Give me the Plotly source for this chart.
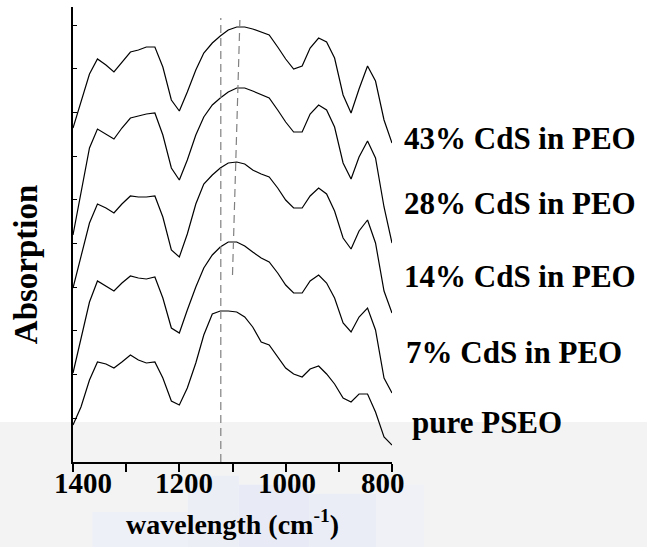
import plotly.graph_objects as go

# wavenumber grid (cm^-1)
wavenumber = [1400, 1385, 1369, 1354, 1338, 1323, 1308, 1292, 1277, 1262,
              1246, 1231, 1215, 1200, 1185, 1169, 1154, 1138, 1123, 1108,
              1092, 1077, 1062, 1046, 1031, 1015, 1000, 985, 969, 954,
              938, 923, 908, 892, 877, 862, 846, 831, 815, 800]

# absorption (arbitrary units, stacked)
cds43 = [3.34, 3.61, 3.88, 4.03, 3.97, 3.90, 4.00, 4.10, 4.12, 4.15,
         4.15, 3.95, 3.62, 3.51, 3.70, 3.92, 4.09, 4.19, 4.26, 4.32,
         4.35, 4.35, 4.33, 4.30, 4.27, 4.15, 4.03, 3.93, 3.96, 4.14,
         4.24, 4.20, 4.04, 3.67, 3.49, 3.73, 3.96, 3.81, 3.42, 3.19]
cds28 = [2.27, 2.71, 3.14, 3.33, 3.28, 3.23, 3.34, 3.44, 3.46, 3.48,
         3.49, 3.27, 2.94, 2.82, 3.02, 3.27, 3.45, 3.57, 3.64, 3.70,
         3.74, 3.74, 3.71, 3.67, 3.64, 3.52, 3.40, 3.30, 3.30, 3.48,
         3.57, 3.52, 3.35, 2.99, 2.83, 3.05, 3.21, 3.04, 2.55, 2.19]
cds14 = [1.74, 2.07, 2.39, 2.58, 2.54, 2.49, 2.58, 2.66, 2.65, 2.65,
         2.66, 2.45, 2.12, 2.05, 2.28, 2.58, 2.78, 2.87, 2.94, 2.99,
         3.00, 2.98, 2.92, 2.88, 2.85, 2.74, 2.62, 2.54, 2.54, 2.66,
         2.74, 2.68, 2.51, 2.24, 2.13, 2.31, 2.42, 2.19, 1.71, 1.49]
cds7 = [0.89, 1.25, 1.60, 1.81, 1.76, 1.71, 1.79, 1.86, 1.84, 1.83,
        1.85, 1.64, 1.34, 1.29, 1.52, 1.75, 1.94, 2.07, 2.15, 2.20,
        2.20, 2.16, 2.10, 2.04, 2.00, 1.89, 1.77, 1.69, 1.69, 1.81,
        1.87, 1.79, 1.64, 1.39, 1.30, 1.45, 1.54, 1.32, 0.84, 0.69]
pure = [0.37, 0.55, 0.82, 1.00, 0.98, 0.94, 1.00, 1.07, 1.02, 0.99,
        1.00, 0.84, 0.61, 0.57, 0.74, 0.99, 1.27, 1.48, 1.51, 1.51,
        1.50, 1.45, 1.35, 1.20, 1.17, 1.05, 0.94, 0.88, 0.85, 0.93,
        0.96, 0.88, 0.78, 0.64, 0.60, 0.68, 0.68, 0.50, 0.25, 0.17]

series_names = ["43% CdS in PEO", "28% CdS in PEO", "14% CdS in PEO",
                "7% CdS in PEO", "pure PSEO"]
series_values = [cds43, cds28, cds14, cds7, pure]
label_y = [0.712, 0.569, 0.407, 0.240, 0.086]
label_x = [1.031, 1.031, 1.031, 1.037, 1.057]

# dashed guide lines (wavenumber, absorption)
guide1_x = [1122, 1122]
guide1_y = [0.0, 4.44]
guide2_x = [1100, 1086]
guide2_y = [1.87, 4.44]

x_tickvals = [1400, 1300, 1200, 1100, 1000, 900, 800]
x_labeltext = ["1400", "1200", "1000", "800"]
# where the original figure printed each tick label (slightly compressed)
x_labelpos = [1381, 1192, 997, 816]

FONT = "Liberation Serif, Times New Roman, serif"

fig = go.Figure()

# watermark-like background band
fig.add_shape(type="rect", xref="paper", yref="paper", x0=-0.3, x1=1.9,
              y0=-0.25, y1=0.088, fillcolor="#f3f3f3", line_width=0, layer="below")
for (a, b, c, d, col) in [(0.36, 0.52, -0.03, -0.19, "#eceef6"),
                          (0.52, 0.74, -0.05, -0.19, "#e8ebf5"),
                          (0.74, 0.95, -0.07, -0.19, "#ebedf6"),
                          (0.06, 0.36, -0.11, -0.19, "#eef0f7"),
                          (0.95, 1.10, -0.05, -0.19, "#f0f1f7")]:
    fig.add_shape(type="rect", xref="paper", yref="paper", x0=a, x1=b,
                  y0=c, y1=d, fillcolor=col, line_width=0, layer="below")

for name, vals in zip(series_names, series_values):
    fig.add_trace(go.Scatter(x=wavenumber, y=vals, mode="lines", name=name,
                             line=dict(color="black", width=1.2),
                             showlegend=False, hoverinfo="skip"))

for gx, gy in [(guide1_x, guide1_y), (guide2_x, guide2_y)]:
    fig.add_trace(go.Scatter(x=gx, y=gy, mode="lines", showlegend=False,
                             line=dict(color="#808080", width=1.2, dash="8px,5px"),
                             hoverinfo="skip"))

for name, lx, ly in zip(series_names, label_x, label_y):
    fig.add_annotation(text="<b>" + name + "</b>", xref="paper", yref="paper",
                       x=lx, y=ly, xanchor="left", yanchor="middle", showarrow=False,
                       font=dict(family=FONT, size=31, color="black"))

for xv, xt in zip(x_labelpos, x_labeltext):
    fig.add_annotation(text="<b>" + xt + "</b>", xref="x", yref="paper",
                       x=xv, y=-0.047, xanchor="center", yanchor="middle",
                       showarrow=False, font=dict(family=FONT, size=29, color="black"))

fig.add_annotation(text="<b>Absorption</b>", xref="paper", yref="paper",
                   x=-0.147, y=0.435, textangle=-90, showarrow=False,
                   xanchor="center", yanchor="middle",
                   font=dict(family=FONT, size=33, color="black"))
fig.add_annotation(text="<b>wavelength (cm<sup>-1</sup>)</b>", xref="paper", yref="paper",
                   x=0.5, y=-0.132, showarrow=False, xanchor="center", yanchor="middle",
                   font=dict(family=FONT, size=28, color="black"))

fig.update_layout(
    width=647, height=547,
    margin=dict(l=73, r=255, t=7, b=85),
    paper_bgcolor="white", plot_bgcolor="rgba(0,0,0,0)",
    xaxis=dict(range=[1400, 800], tickvals=x_tickvals, showticklabels=False,
               showgrid=False, zeroline=False, showline=True, linecolor="black",
               linewidth=2, ticks="outside", ticklen=8, tickwidth=1.5,
               tickcolor="black"),
    yaxis=dict(range=[0, 4.55], dtick=0.437, tick0=0, showticklabels=False,
               showgrid=False, zeroline=False, showline=True, linecolor="black",
               linewidth=1.5, ticks="inside", ticklen=4, tickwidth=1.2,
               tickcolor="black"),
)

fig.write_html("out.html")
